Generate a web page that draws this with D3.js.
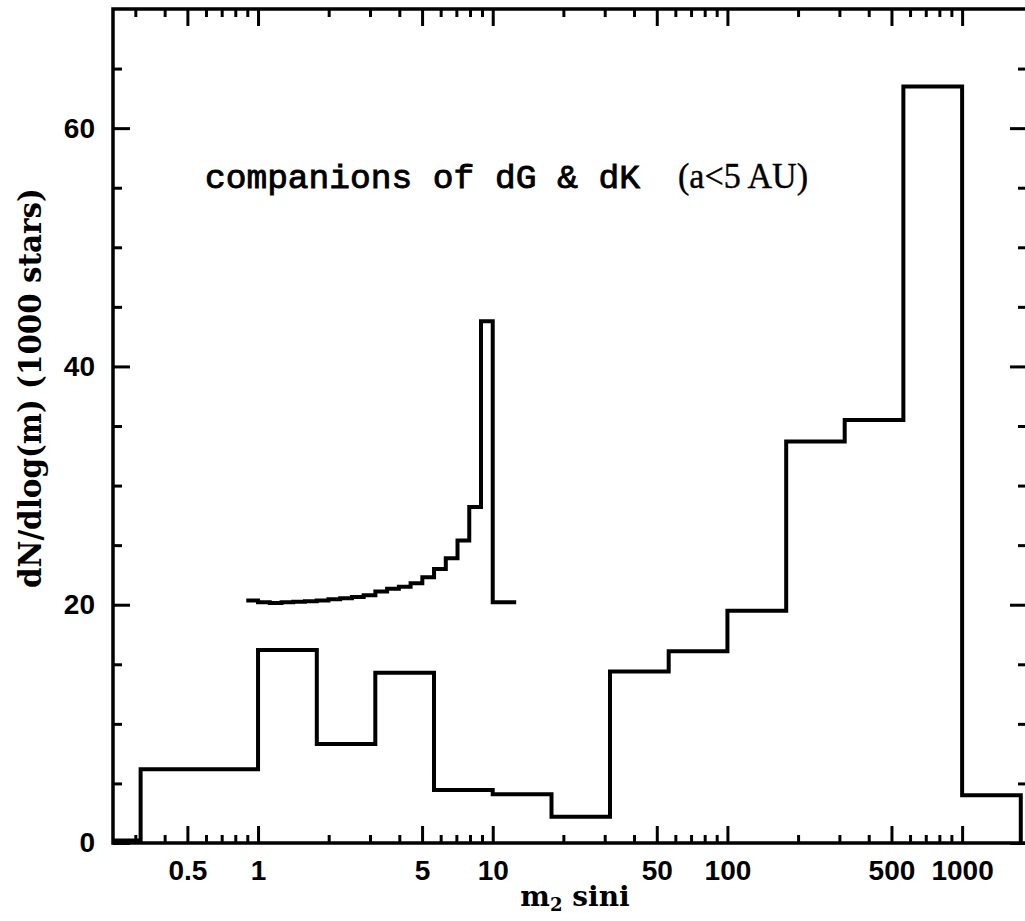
<!DOCTYPE html>
<html>
<head>
<meta charset="utf-8">
<script src="https://cdn.jsdelivr.net/npm/d3@7/dist/d3.min.js"></script>
<style>
  html, body { margin: 0; padding: 0; background: #fff; }
  svg { display: block; }
</style>
</head>
<body>
<svg id="chart" width="1025" height="921"></svg>
<script>
// ---------- data ----------
// main histogram: quarter-decade bins in m2 sin i
const histEdges = [0.178, 0.316, 0.562, 1, 1.78, 3.16, 5.62, 10, 17.8, 31.6, 56.2, 100, 178, 316, 562, 1000, 1778];
const histValues = [0.2, 6.2, 6.2, 16.2, 8.3, 14.3, 4.45, 4.1, 2.2, 14.4, 16.1, 19.5, 33.7, 35.5, 63.5, 4.0];

// companion curve: 0.05-dex bins
const compEdges = [0.891, 1, 1.122, 1.259, 1.413, 1.585, 1.778, 1.995, 2.239, 2.512, 2.818, 3.162,
                   3.548, 3.981, 4.467, 5.012, 5.623, 6.310, 7.079, 7.943, 8.913, 10, 11.22, 12.59];
const compValues = [20.35, 20.2, 20.15, 20.2, 20.25, 20.3, 20.35, 20.45, 20.55, 20.65, 20.8,
                    21.1, 21.35, 21.5, 21.8, 22.3, 23.0, 23.9, 25.4, 28.2, 43.8, 20.2, 20.2];

const xMajorTicks = [0.5, 1, 5, 10, 50, 100, 500, 1000];
const xMinorTicks = [0.3, 0.4, 0.6, 0.7, 0.8, 0.9, 2, 3, 4, 6, 7, 8, 9, 20, 30, 40, 60, 70, 80, 90,
                     200, 300, 400, 600, 700, 800, 900];
const yMajorTicks = [0, 20, 40, 60];
const yMinorTicks = [5, 10, 15, 25, 30, 35, 45, 50, 55, 65];

const xTitle = "m";
const xTitleSub = "2";
const xTitleRest = " sini";
const yTitle = "dN/dlog(m) (1000 stars)";
const noteMain = "companions of dG & dK";
const noteSide = "(a<5 AU)";

// ---------- layout ----------
const L = 113, R = 1027, T = 9, B = 843;
const svg = d3.select("#chart");

const x = d3.scaleLog().domain([0.241, 1890]).range([L, R]);
const y = d3.scaleLinear().domain([0, 70]).range([B, T]);

svg.append("defs").append("clipPath").attr("id", "plotclip")
  .append("rect").attr("x", L).attr("y", T).attr("width", R - L).attr("height", B - T);

const tickFont = "'Liberation Sans', Arial, Helvetica, sans-serif";

function styleAxis(g) {
  g.select(".domain").remove();
  g.selectAll(".tick line").attr("stroke", "#000").attr("stroke-width", 3);
  g.selectAll("text").attr("fill", "#000").attr("font-family", tickFont)
    .attr("font-weight", "bold").attr("font-size", 28);
}

// bottom axis (ticks inward)
const gxb = svg.append("g").attr("transform", `translate(0,${B})`)
  .call(d3.axisBottom(x).tickValues(xMajorTicks).tickSize(-17).tickFormat(d => String(d)));
styleAxis(gxb);
gxb.selectAll("text").attr("y", 37).attr("dy", null);
const gxbm = svg.append("g").attr("transform", `translate(0,${B})`)
  .call(d3.axisBottom(x).tickValues(xMinorTicks).tickSize(-8).tickFormat(""));
styleAxis(gxbm);

// top axis (ticks inward)
const gxt = svg.append("g").attr("transform", `translate(0,${T})`)
  .call(d3.axisTop(x).tickValues(xMajorTicks).tickSize(-17).tickFormat(""));
styleAxis(gxt);
const gxtm = svg.append("g").attr("transform", `translate(0,${T})`)
  .call(d3.axisTop(x).tickValues(xMinorTicks).tickSize(-8).tickFormat(""));
styleAxis(gxtm);

// left axis
const gyl = svg.append("g").attr("transform", `translate(${L},0)`)
  .call(d3.axisLeft(y).tickValues(yMajorTicks).tickSize(-17).tickPadding(18).tickFormat(d => String(d)));
styleAxis(gyl);
const gylm = svg.append("g").attr("transform", `translate(${L},0)`)
  .call(d3.axisLeft(y).tickValues(yMinorTicks).tickSize(-9).tickFormat(""));
styleAxis(gylm);

// right axis
const gyr = svg.append("g").attr("transform", `translate(${R},0)`)
  .call(d3.axisRight(y).tickValues(yMajorTicks).tickSize(-17).tickFormat(""));
styleAxis(gyr);
const gyrm = svg.append("g").attr("transform", `translate(${R},0)`)
  .call(d3.axisRight(y).tickValues(yMinorTicks).tickSize(-9).tickFormat(""));
styleAxis(gyrm);

// frame
svg.append("rect").attr("x", L).attr("y", T).attr("width", R - L).attr("height", B - T)
  .attr("fill", "none").attr("stroke", "#000").attr("stroke-width", 3.5);

// step path builders
function histPath(edges, vals) {
  let p = `M${x(edges[0])},${y(0)}`;
  vals.forEach((v, i) => { p += `V${y(v)}H${x(edges[i + 1])}`; });
  p += `V${y(0)}`;
  return p;
}
function stepPath(edges, vals) {
  let p = `M${x(edges[0])},${y(vals[0])}`;
  vals.forEach((v, i) => { p += `V${y(v)}H${x(edges[i + 1])}`; });
  return p;
}

svg.append("path").attr("clip-path", "url(#plotclip)")
  .attr("d", histPath(histEdges, histValues))
  .attr("fill", "none").attr("stroke", "#000").attr("stroke-width", 4)
  .attr("stroke-linejoin", "miter");

svg.append("path").attr("clip-path", "url(#plotclip)")
  .attr("d", stepPath(compEdges, compValues))
  .attr("fill", "none").attr("stroke", "#000").attr("stroke-width", 4)
  .attr("stroke-linejoin", "miter");

// annotation
svg.append("text").attr("x", 205).attr("y", 188)
  .attr("font-family", "'Liberation Mono', 'Courier New', monospace")
  .attr("font-size", 34).attr("fill", "#000")
  .attr("stroke", "#000").attr("stroke-width", 0.9)
  .attr("textLength", 435).attr("lengthAdjust", "spacingAndGlyphs")
  .text(noteMain);
svg.append("text").attr("x", 678).attr("y", 188)
  .attr("font-family", "'Liberation Serif', 'Times New Roman', serif")
  .attr("font-size", 35).attr("fill", "#000")
  .attr("stroke", "#000").attr("stroke-width", 0.4)
  .attr("textLength", 130).attr("lengthAdjust", "spacingAndGlyphs")
  .text(noteSide);

// axis titles
const xt = svg.append("text").attr("x", 575).attr("y", 906).attr("text-anchor", "middle")
  .attr("font-family", "'DejaVu Serif', serif").attr("font-weight", "bold")
  .attr("font-size", 28).attr("fill", "#000");
xt.append("tspan").text(xTitle);
xt.append("tspan").attr("font-size", 18).attr("dy", 5).text(xTitleSub);
xt.append("tspan").attr("dy", -5).text(xTitleRest);

svg.append("text")
  .attr("transform", `translate(41,388) rotate(-90)`)
  .attr("text-anchor", "middle")
  .attr("font-family", "'DejaVu Serif', serif").attr("font-weight", "bold")
  .attr("font-size", 31).attr("fill", "#000")
  .attr("textLength", 400).attr("lengthAdjust", "spacingAndGlyphs")
  .text(yTitle);
</script>
</body>
</html>
